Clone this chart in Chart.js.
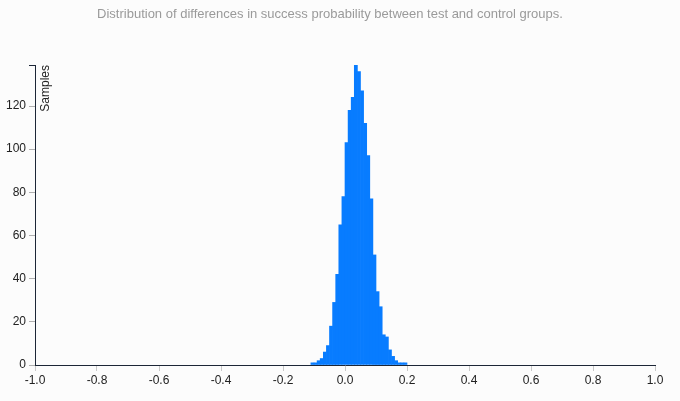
<!DOCTYPE html>
<html>
<head>
<meta charset="utf-8">
<title>Distribution of differences</title>
<script src="https://cdn.jsdelivr.net/npm/chart.js@4/dist/chart.umd.min.js"></script>
<style>
  html, body { margin: 0; padding: 0; background: #fcfcfc; }
  canvas { display: block; }
</style>
</head>
<body>
<canvas id="hist" width="680" height="401"></canvas>
<script>
// Left edge of each histogram bin (bin width 0.01)
const binEdges = [-0.11, -0.10, -0.09, -0.08, -0.07, -0.06, -0.05, -0.04, -0.03, -0.02, -0.01,
  0.00, 0.01, 0.02, 0.03, 0.04, 0.05, 0.06, 0.07, 0.08, 0.09,
  0.10, 0.11, 0.12, 0.13, 0.14, 0.15, 0.16, 0.17, 0.18, 0.19];
const binWidth = 0.01;
// Samples per bin
const samples = [1, 1, 2, 3, 6, 9, 18, 29, 42, 65, 78,
  103, 118, 124, 139, 136, 127, 112, 97, 77, 51,
  34, 27, 14, 13, 7, 4, 2, 1, 1, 1];

const xTicks = [-1.0, -0.8, -0.6, -0.4, -0.2, 0.0, 0.2, 0.4, 0.6, 0.8, 1.0];
const yTicks = [0, 20, 40, 60, 80, 100, 120];

const titleText = 'Distribution of differences in success probability between test and control groups.';
const yTitle = 'Samples';
const FONT = '"Liberation Sans", Arial, sans-serif';

// title and y label drawn by hand
const textPlugin = {
  id: 'texts',
  afterDraw(chart) {
    const ctx = chart.ctx;
    const area = chart.chartArea;
    ctx.save();
    ctx.fillStyle = '#9a9a9a';
    ctx.font = '13px ' + FONT;
    ctx.textAlign = 'center';
    ctx.textBaseline = 'middle';
    ctx.fillText(titleText, 330, 14);

    ctx.fillStyle = '#222';
    ctx.font = '12px ' + FONT;
    ctx.translate(area.left + 11, area.top);
    ctx.rotate(-Math.PI / 2);
    ctx.textAlign = 'right';
    ctx.fillText(yTitle, 0, 0);
    ctx.restore();
  }
};

const points = binEdges.map((e, i) => ({ x: e + binWidth / 2, y: samples[i] }));
const yMax = Math.max(...samples);

new Chart(document.getElementById('hist').getContext('2d'), {
  type: 'bar',
  data: {
    datasets: [{
      data: points,
      backgroundColor: '#087cff',
      borderWidth: 0,
      barPercentage: 1,
      categoryPercentage: 1
    }]
  },
  options: {
    responsive: false,
    animation: false,
    devicePixelRatio: 1,
    layout: { padding: { top: 65, right: 25, left: 0, bottom: 0 } },
    plugins: { legend: { display: false }, tooltip: { enabled: false } },
    scales: {
      x: {
        type: 'linear',
        offset: false,
        min: -1,
        max: 1,
        afterFit(s) { s.height = 36; },
        afterBuildTicks(s) { s.ticks = xTicks.map(v => ({ value: v })); },
        ticks: {
          callback: v => v.toFixed(1),
          color: '#222',
          font: { family: FONT, size: 12 },
          padding: 2,
          maxRotation: 0,
          autoSkip: false
        },
        grid: { offset: false, drawOnChartArea: false, tickLength: 6, color: '#c8c8c8' },
        border: { color: '#1c2636', width: 1 }
      },
      y: {
        min: 0,
        max: yMax,
        afterFit(s) { s.width = 35; },
        afterBuildTicks(s) { s.ticks = yTicks.concat([yMax]).map(v => ({ value: v })); },
        ticks: {
          callback: v => (yTicks.includes(v) ? String(v) : ''),
          color: '#222',
          font: { family: FONT, size: 12 },
          padding: 3,
          autoSkip: false
        },
        grid: {
          drawOnChartArea: false,
          tickLength: 6,
          color: ctx => (ctx.tick && ctx.tick.value === yMax ? '#1c2636' : '#b0b0b0')
        },
        border: { color: '#1c2636', width: 1 }
      }
    }
  },
  plugins: [textPlugin]
});
</script>
</body>
</html>
